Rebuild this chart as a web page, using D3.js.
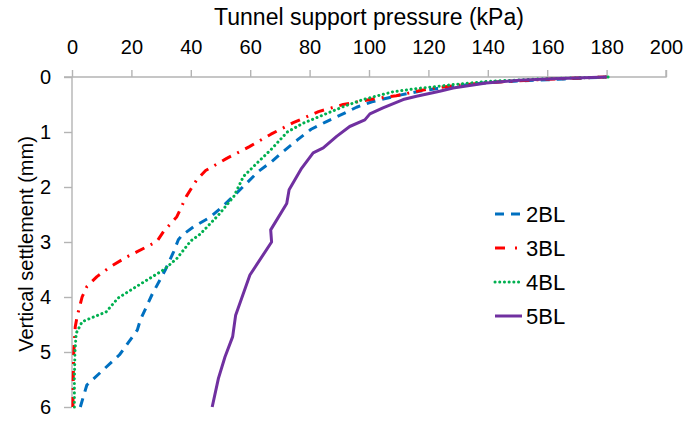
<!DOCTYPE html>
<html>
<head>
<meta charset="utf-8">
<script src="https://cdn.jsdelivr.net/npm/d3@7"></script>
<style>
  body { margin: 0; background: #fff; }
  text { font-family: "Liberation Sans", Arial, sans-serif; fill: #000; }
</style>
</head>
<body>
<div id="chart"></div>
<script>
// Tunnel support pressure (kPa) vs vertical settlement (mm)
const seriesNames = ["2BL", "3BL", "4BL", "5BL"];

const pressure2BL = [2.8, 5.0, 7, 16, 22, 23, 27, 31.4, 34.2, 35.8, 37, 41, 46.5, 50.4, 54.3, 58.8, 62.7, 67.2, 71, 76, 80.5, 85.7, 90.5, 95.8, 101, 110.4, 117, 123, 130, 140, 160, 180];
const settle2BL = [6.0, 5.6, 5.5, 5.05, 4.6, 4.42, 3.95, 3.51, 3.18, 2.96, 2.88, 2.72, 2.55, 2.37, 2.17, 1.93, 1.72, 1.54, 1.36, 1.14, 0.95, 0.81, 0.69, 0.55, 0.45, 0.33, 0.26, 0.21, 0.16, 0.1, 0.05, 0];

const pressure3BL = [0.3, 0.4, 0.6, 1.1, 1.7, 3.4, 5, 8.4, 12.9, 18.5, 21.8, 28.6, 30.8, 35.3, 38.5, 42, 45, 52.1, 59.6, 67, 74.5, 83, 91.3, 100.3, 109.2, 117, 122, 130, 140, 160, 180];
const settle3BL = [6, 5.5, 5.0, 4.54, 4.36, 4.0, 3.81, 3.63, 3.45, 3.27, 3.18, 2.99, 2.81, 2.54, 2.17, 1.87, 1.7, 1.48, 1.27, 1.04, 0.83, 0.63, 0.5, 0.41, 0.34, 0.25, 0.2, 0.15, 0.1, 0.04, 0];

const pressure4BL = [0.8, 0.8, 1, 1.4, 3.4, 11.5, 15.5, 22, 26.5, 31, 35.3, 40, 43.1, 49.3, 54.5, 57.7, 62.2, 67, 72.5, 77.8, 84.6, 91.3, 98, 108, 116, 123, 128, 140, 160, 182];
const settle4BL = [6, 5.5, 5, 4.66, 4.45, 4.27, 4.02, 3.8, 3.65, 3.5, 3.3, 2.98, 2.86, 2.51, 2.17, 1.81, 1.57, 1.32, 1.0, 0.84, 0.69, 0.54, 0.41, 0.27, 0.21, 0.17, 0.14, 0.08, 0.03, 0];

const pressure5BL = [47.2, 49.3, 51.5, 54.1, 55.1, 59.9, 67.2, 66.9, 72.3, 73.1, 77.3, 81.2, 84.6, 89.1, 93.5, 98.6, 100.3, 104.7, 111.5, 116, 123.8, 128.3, 139.5, 150.7, 161.9, 180];
const settle5BL = [6.0, 5.48, 5.09, 4.72, 4.33, 3.6, 3.0, 2.78, 2.3, 2.05, 1.66, 1.38, 1.29, 1.08, 0.9, 0.78, 0.67, 0.56, 0.41, 0.35, 0.26, 0.2, 0.11, 0.06, 0.03, 0];

const xTicks = [0, 20, 40, 60, 80, 100, 120, 140, 160, 180, 200];
const yTicks = [0, 1, 2, 3, 4, 5, 6];

const series = [
    { name: "2BL", x: pressure2BL, y: settle2BL, color: "#0070c0", dash: "9,7", cap: "butt" },
    { name: "3BL", x: pressure3BL, y: settle3BL, color: "#ff0000", dash: "10,7,2,7", cap: "butt" },
    { name: "4BL", x: pressure4BL, y: settle4BL, color: "#00b050", dash: "0.1,4.6", cap: "round" },
    { name: "5BL", x: pressure5BL, y: settle5BL, color: "#7030a0", dash: null, cap: "butt" }
];

function createChart() {
    const margin = { top: 77, right: 34, bottom: 14, left: 72 };
    const width = 700 - margin.left - margin.right;
    const height = 421 - margin.top - margin.bottom;

    const svg = d3.select("#chart")
        .append("svg")
        .attr("width", 700)
        .attr("height", 421)
        .append("g")
        .attr("transform", `translate(${margin.left},${margin.top})`);

    const x = d3.scaleLinear()
        .domain([0, 200])
        .range([0, width]);

    const y = d3.scaleLinear()
        .domain([0, 6])
        .range([0, height]);

    // top axis
    const xAxis = svg.append("g")
        .call(d3.axisTop(x).tickValues(xTicks).tickSize(7).tickPadding(16));
    xAxis.selectAll("text").style("font-size", "20px");

    const yAxis = svg.append("g")
        .call(d3.axisLeft(y).tickValues(yTicks).tickFormat(d3.format("d")).tickSize(8).tickPadding(13));
    yAxis.selectAll("text").style("font-size", "20px");

    svg.selectAll(".domain, .tick line")
        .attr("stroke", "#b4b4b4")
        .attr("stroke-width", 1.4);
    xAxis.select(".domain").attr("d", `M-8,0H${width}V-7`);
    yAxis.select(".domain").attr("d", `M0,0V${height}`);

    const line = d3.line()
        .x(d => x(d[0]))
        .y(d => y(d[1]));

    svg.selectAll(".series")
        .data(series)
        .enter()
        .append("path")
        .attr("class", "series")
        .attr("d", s => line(s.x.map((v, i) => [v, s.y[i]])))
        .attr("fill", "none")
        .attr("stroke", s => s.color)
        .attr("stroke-width", 3)
        .attr("stroke-linecap", s => s.cap)
        .attr("stroke-linejoin", "round")
        .attr("stroke-dasharray", s => s.dash);

    // axis titles
    svg.append("text")
        .attr("x", width / 2)
        .attr("y", -52)
        .attr("text-anchor", "middle")
        .style("font-size", "23px")
        .text("Tunnel support pressure (kPa)");

    svg.append("text")
        .attr("transform", `translate(-39,${height / 2 + 2}) rotate(-90)`)
        .attr("text-anchor", "middle")
        .style("font-size", "20px")
        .text("Vertical settlement (mm)");

    // legend
    const legend = svg.append("g")
        .attr("transform", `translate(423,137)`);

    const rows = legend.selectAll("g")
        .data(series)
        .enter()
        .append("g")
        .attr("transform", (d, i) => `translate(0,${i * 34})`);

    rows.append("line")
        .attr("x1", 0)
        .attr("x2", 27)
        .attr("stroke", d => d.color)
        .attr("stroke-width", 3)
        .attr("stroke-linecap", d => d.cap)
        .attr("stroke-dasharray", d => d.name === "2BL" ? "9,7" : d.name === "3BL" ? "10,10,2,7" : d.dash);

    rows.append("text")
        .attr("x", 31)
        .attr("y", 8)
        .style("font-size", "22px")
        .text(d => d.name);
}

createChart();
</script>
</body>
</html>
